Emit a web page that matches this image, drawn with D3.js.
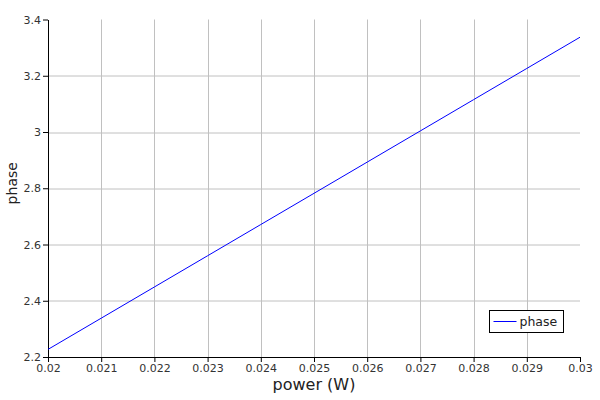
<!DOCTYPE html>
<html>
<head>
<meta charset="utf-8">
<script src="https://cdn.jsdelivr.net/npm/d3@7"></script>
<style>
  body { margin: 0; background: #fff; }
  svg { display: block; font-family: "DejaVu Sans", Verdana, sans-serif; }
</style>
</head>
<body>
<svg id="chart" width="600" height="400"></svg>
<script>
// values
const power = [0.020, 0.021, 0.022, 0.023, 0.024, 0.025, 0.026, 0.027, 0.028, 0.029, 0.030];
const phase = [2.227, 2.338, 2.449, 2.560, 2.671, 2.782, 2.893, 3.004, 3.115, 3.226, 3.337];
const xTicks = [0.02, 0.021, 0.022, 0.023, 0.024, 0.025, 0.026, 0.027, 0.028, 0.029, 0.03];
const yTicks = [2.2, 2.4, 2.6, 2.8, 3.0, 3.2, 3.4];
const seriesName = 'phase';

const margin = { top: 19.5, right: 20, bottom: 43, left: 48 };
const width = 600 - margin.left - margin.right;
const height = 400 - margin.top - margin.bottom;

const svg = d3.select('#chart');
const g = svg.append('g')
    .attr('transform', `translate(${margin.left},${margin.top})`);

const x = d3.scaleLinear().domain([0.02, 0.03]).range([0, width]);
const y = d3.scaleLinear().domain([2.2, 3.4]).range([height, 0]);
const fmt = d3.format('~g');

// grid lines on interior ticks only
g.append('g')
    .selectAll('line')
    .data(xTicks.slice(1, -1))
    .join('line')
    .attr('x1', d => Math.round(x(d)) + 0.5)
    .attr('x2', d => Math.round(x(d)) + 0.5)
    .attr('y1', 0)
    .attr('y2', height)
    .attr('stroke', '#c0c0c0');

g.append('g')
    .selectAll('line')
    .data(yTicks.slice(1, -1))
    .join('line')
    .attr('x1', 0)
    .attr('x2', width)
    .attr('y1', d => Math.round(y(d)) + 0.5)
    .attr('y2', d => Math.round(y(d)) + 0.5)
    .attr('stroke', '#c0c0c0');

// axes
const xAxis = g.append('g')
    .attr('transform', `translate(0,${height})`)
    .call(d3.axisBottom(x).tickValues(xTicks).tickFormat(fmt).tickSize(5).tickSizeOuter(0));
const yAxis = g.append('g')
    .call(d3.axisLeft(y).tickValues(yTicks).tickFormat(fmt).tickSize(5).tickSizeOuter(0));

[xAxis, yAxis].forEach(a => {
    a.selectAll('text').attr('font-size', 11).attr('fill', '#333').attr('font-family', 'DejaVu Sans');
    a.selectAll('line').attr('stroke', '#000');
    a.select('.domain').attr('stroke', '#000');
});
xAxis.selectAll('text').attr('dy', '0.8em').attr('y', 6);
yAxis.selectAll('text').attr('x', -7);

// series line
const line = d3.line()
    .x((d, i) => x(power[i]))
    .y(d => y(d));

g.append('path')
    .datum(phase)
    .attr('fill', 'none')
    .attr('stroke', '#0000ff')
    .attr('stroke-width', 1)
    .attr('d', line);

// axis titles
svg.append('text')
    .attr('x', margin.left + width / 2)
    .attr('y', 390)
    .attr('text-anchor', 'middle')
    .attr('font-size', 16)
    .attr('fill', '#222')
    .text('power (W)');

svg.append('text')
    .attr('transform', `translate(17,${margin.top + height / 2 - 5}) rotate(-90)`)
    .attr('text-anchor', 'middle')
    .attr('font-size', 14)
    .attr('fill', '#222')
    .text('phase');

// legend
const legend = svg.append('g').attr('transform', 'translate(489.5,310.5)');
legend.append('rect')
    .attr('width', 74)
    .attr('height', 22)
    .attr('fill', '#fff')
    .attr('stroke', '#000');
legend.append('line')
    .attr('x1', 4).attr('x2', 27)
    .attr('y1', 11).attr('y2', 11)
    .attr('stroke', '#0000ff');
legend.append('text')
    .attr('x', 30)
    .attr('y', 15.5)
    .attr('font-size', 12.5)
    .attr('fill', '#222')
    .text(seriesName);
</script>
</body>
</html>
